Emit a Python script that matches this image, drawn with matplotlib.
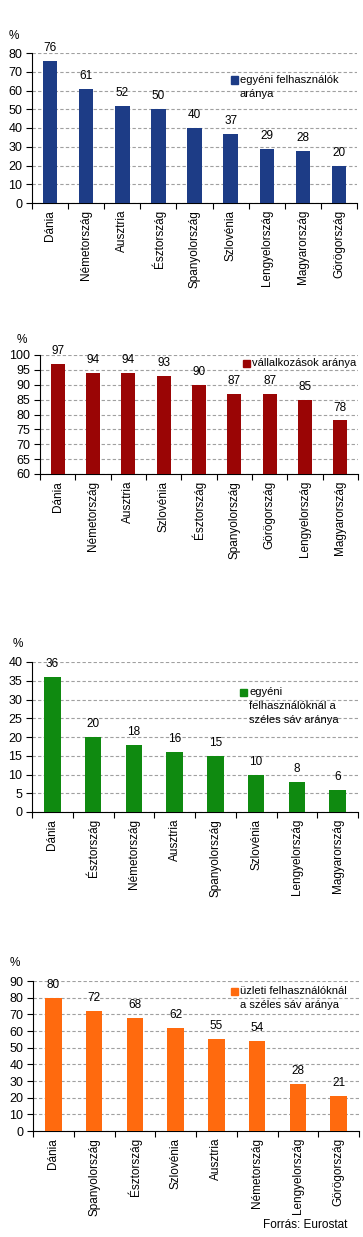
import matplotlib
matplotlib.use("Agg")
import matplotlib.pyplot as plt
from matplotlib.patches import Rectangle

plt.rcParams['font.family'] = ['Liberation Sans', 'DejaVu Sans']
plt.rcParams['font.size'] = 8

W, H = 363, 1237

# ---------------------------
# DATA
# ---------------------------
cats_1 = ['Dánia', 'Németország', 'Ausztria', 'Észtország', 'Spanyolország',
          'Szlovénia', 'Lengyelország', 'Magyarország', 'Görögország']
vals_1 = [76, 61, 52, 50, 40, 37, 29, 28, 20]

cats_2 = ['Dánia', 'Németország', 'Ausztria', 'Szlovénia', 'Észtország',
          'Spanyolország', 'Görögország', 'Lengyelország', 'Magyarország']
vals_2 = [97, 94, 94, 93, 90, 87, 87, 85, 78]

cats_3 = ['Dánia', 'Észtország', 'Németország', 'Ausztria', 'Spanyolország',
          'Szlovénia', 'Lengyelország', 'Magyarország']
vals_3 = [36, 20, 18, 16, 15, 10, 8, 6]

cats_4 = ['Dánia', 'Spanyolország', 'Észtország', 'Szlovénia', 'Ausztria',
          'Németország', 'Lengyelország', 'Görögország']
vals_4 = [80, 72, 68, 62, 55, 54, 28, 21]

fig = plt.figure(figsize=(W / 100, H / 100), dpi=100)


def px_axes(left, right, top, bottom):
    return fig.add_axes([left / W, 1 - bottom / H, (right - left) / W, (bottom - top) / H])


def panel(box, cats, vals, ymin, ymax, step, color, legend_lines, leg_xy, pct_xy):
    ax = px_axes(*box)
    x = list(range(len(cats)))
    ax.bar(x, [v - ymin for v in vals], bottom=ymin, width=0.4, color=color, zorder=3)
    for xi, v in zip(x, vals):
        ax.annotate(str(v), (xi, v), xytext=(0, 5), textcoords='offset points',
                    ha='center', va='bottom', fontsize=8.5)
    ax.set_xlim(-0.5, len(cats) - 0.5)
    ax.set_ylim(ymin, ymax)
    ax.set_yticks(range(ymin, ymax + 1, step))
    ax.set_xticks(x)
    ax.set_xticklabels(cats, rotation=90, fontsize=8.5)
    ax.set_xticks([i - 0.5 for i in range(len(cats) + 1)], minor=True)
    ax.tick_params(axis='x', which='major', length=0, pad=5)
    ax.tick_params(axis='x', which='minor', length=4, width=0.8)
    ax.tick_params(axis='y', length=4, width=0.8, pad=3, labelsize=9)
    for s in ['top', 'right']:
        ax.spines[s].set_visible(False)
    ax.spines['left'].set_linewidth(0.8)
    ax.spines['bottom'].set_linewidth(0.8)
    ax.grid(axis='y', color='#a0a0a0', linestyle=(0, (3, 2)), linewidth=0.8, zorder=0)
    ax.set_axisbelow(True)
    # legend drawn by hand
    lx, ly = leg_xy
    fig.patches.append(Rectangle((lx / W, 1 - (ly + 3.5) / H), 7 / W, 7 / H,
                                 transform=fig.transFigure, color=color, figure=fig))
    for i, line in enumerate(legend_lines):
        fig.text((lx + 9) / W, 1 - (ly + i * 14) / H, line, ha='left', va='center', fontsize=8)
    fig.text(pct_xy[0] / W, 1 - pct_xy[1] / H, '%', ha='center', va='center', fontsize=8.5)
    return ax


panel((32, 357, 53, 203), cats_1, vals_1, 0, 80, 10, '#1d3c86',
      ['egyéni felhasználók', 'aránya'], (231, 80), (14, 36))
panel((40, 358, 355, 474), cats_2, vals_2, 60, 100, 5, '#9a0505',
      ['vállalkozások aránya'], (243, 363), (22, 340))
panel((32, 358, 662, 812), cats_3, vals_3, 0, 40, 5, '#0f8a10',
      ['egyéni', 'felhasználóknál a', 'széles sáv aránya'], (240, 692), (18, 644))
panel((33, 359, 981, 1131), cats_4, vals_4, 0, 90, 10, '#ff6a0e',
      ['üzleti felhasználóknál', 'a széles sáv aránya'], (231, 991), (15, 963))

fig.text(347 / W, 1 - 1225 / H, 'Forrás: Eurostat', ha='right', va='center', fontsize=8.5)

fig.savefig('out.png', dpi=100)
